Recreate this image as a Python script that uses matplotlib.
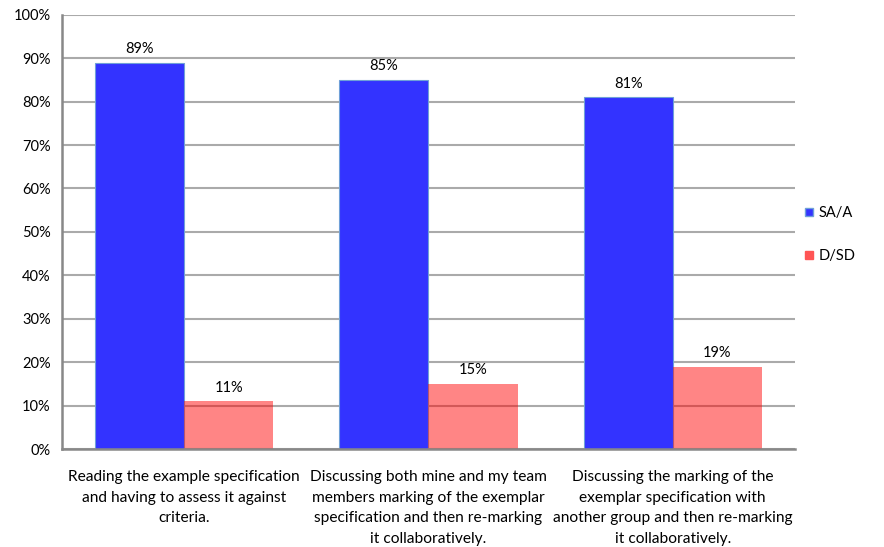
import matplotlib.pyplot as plt
from matplotlib.lines import Line2D
import numpy as np

plt.rcParams['font.family'] = ['Lato', 'DejaVu Sans']

categories = ["Reading the example specification\nand having to assess it against\ncriteria.",
              "Discussing both mine and my team\nmembers marking of the exemplar\nspecification and then re-marking\nit collaboratively.",
              "Discussing the marking of the\nexemplar specification with\nanother group and then re-marking\nit collaboratively."]
sa_a = [89, 85, 81]
d_sd = [11, 15, 19]
series_names = ["SA/A", "D/SD"]

fig = plt.figure(figsize=(8.84, 5.47), dpi=100)
ax = fig.add_axes([0.0701, 0.179, 0.829, 0.794])

x = np.arange(len(categories))
w = 0.365
b1 = ax.bar(x - w / 2, sa_a, w, color='#3333ff', edgecolor='#6fa0d8', linewidth=0.8, zorder=2)
b2 = ax.bar(x + w / 2, d_sd, w, color='#ff0000', alpha=0.48, linewidth=0, zorder=2)

# value labels above bars
for rect, v in zip(list(b1) + list(b2), sa_a + d_sd):
    ax.text(rect.get_x() + rect.get_width() / 2, v + 1.5, f"{v}%", ha='center', va='bottom', fontsize=10.5)

ax.set_xlim(-0.5, 2.5)
ax.set_ylim(0, 100)
ax.set_yticks(range(0, 101, 10))
ax.set_yticklabels([f"{t}%" for t in range(0, 101, 10)], fontsize=10.5)
ax.set_xticks(x)
ax.set_xticklabels(categories, fontsize=11.2, linespacing=1.6, va='top')
ax.tick_params(axis='both', length=0, pad=8)
ax.tick_params(axis='x', pad=15)
ax.yaxis.grid(True, color='#aaaaaa', linewidth=1.5, zorder=0)
ax.set_axisbelow(True)
for s in ['top', 'right']:
    ax.spines[s].set_visible(False)
for s in ['left', 'bottom']:
    ax.spines[s].set_color('#888888')
    ax.spines[s].set_linewidth(1.8)

handles = [Line2D([], [], marker='s', linestyle='', markersize=6, markerfacecolor='#3333ff', markeredgecolor='#6fa0d8'),
           Line2D([], [], marker='s', linestyle='', markersize=6, markerfacecolor='#ff5555', markeredgecolor='#ff5555')]
fig.legend(handles, series_names, loc='center left', bbox_to_anchor=(0.895, 0.571), frameon=False,
           fontsize=10.5, labelspacing=1.95, handlelength=0.6, handletextpad=0.4)

fig.savefig('out.png', dpi=100)
